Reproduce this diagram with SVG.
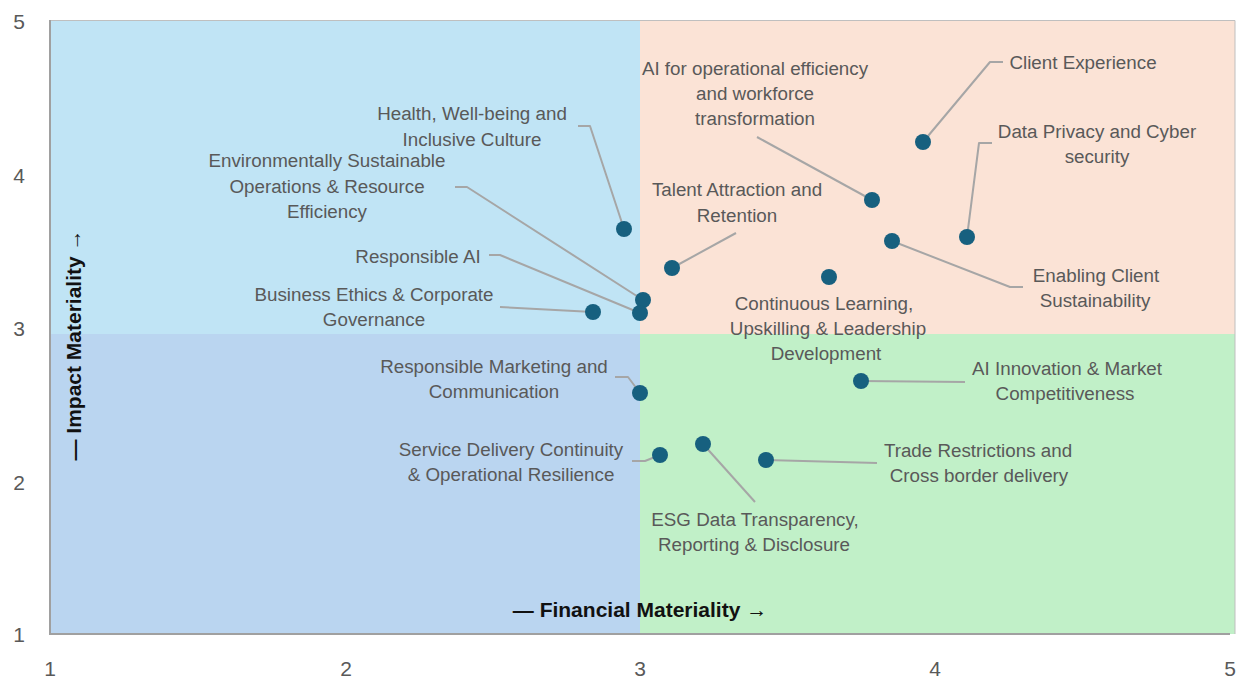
<svg xmlns="http://www.w3.org/2000/svg" width="1248" height="679" viewBox="0 0 1248 679">
<style>
.lbl{font-family:"Liberation Sans",Arial,sans-serif;font-size:18.8px;fill:#595959;text-anchor:middle}
.tick{font-family:"Liberation Sans",Arial,sans-serif;font-size:21px;fill:#595959;text-anchor:middle}
.axt{font-family:"Liberation Sans",Arial,sans-serif;font-size:21px;font-weight:bold;fill:#111;text-anchor:middle}
.ld{fill:none;stroke:#a6a6a6;stroke-width:2;stroke-linejoin:round}
.dot{fill:#17607f}
</style>
<rect width="1248" height="679" fill="#ffffff"/>
<g id="quadrants">
<rect x="50" y="20" width="590" height="314" fill="#c0e4f5"/>
<rect x="640" y="20" width="595" height="314" fill="#fbe3d6"/>
<rect x="50" y="334" width="590" height="300" fill="#bad5f0"/>
<rect x="640" y="334" width="595" height="300" fill="#c1f0c8"/>
<path d="M50 20.5H1235V634" fill="none" stroke="#bfbfbf" stroke-width="1"/>
<path d="M50 20V634H1230" fill="none" stroke="#a0a0a0" stroke-width="2"/>
</g>
<g id="ticks">
<text class="tick" x="19" y="29">5</text>
<text class="tick" x="19" y="183">4</text>
<text class="tick" x="19" y="336">3</text>
<text class="tick" x="19" y="490">2</text>
<text class="tick" x="19" y="642">1</text>
<text class="tick" x="50" y="676">1</text>
<text class="tick" x="346" y="676">2</text>
<text class="tick" x="640" y="676">3</text>
<text class="tick" x="935" y="676">4</text>
<text class="tick" x="1230" y="676">5</text>
</g>
<g id="axis-titles">
<text class="axt" x="640" y="617">— Financial Materiality →</text>
<text class="axt" transform="translate(81 345) rotate(-90)">— Impact Materiality →</text>
</g>
<g id="connectors">
<path class="ld" d="M1003 62H990L923 142"/>
<path class="ld" d="M992 143H979L967 237"/>
<path class="ld" d="M757 137L872 200"/>
<path class="ld" d="M1023 287H1010L892 241"/>
<path class="ld" d="M736 233L672 268"/>
<path class="ld" d="M578 126H590L624 229"/>
<path class="ld" d="M455 187H467L643 300"/>
<path class="ld" d="M489 255H500L640 313"/>
<path class="ld" d="M500 307L593 312"/>
<path class="ld" d="M615 377H628L640 393"/>
<path class="ld" d="M632 461H645L660 455"/>
<path class="ld" d="M755 502L703 444"/>
<path class="ld" d="M877 463L766 460"/>
<path class="ld" d="M965 382L861 381"/>
</g>
<g id="n-client-experience"><circle class="dot" cx="923" cy="142" r="8"/><text class="lbl" x="1083" y="69">Client Experience</text></g>
<g id="n-data-privacy"><circle class="dot" cx="967" cy="237" r="8"/><text class="lbl" x="1097" y="138">Data Privacy and Cyber</text><text class="lbl" x="1097" y="163">security</text></g>
<g id="n-ai-ops"><circle class="dot" cx="872" cy="200" r="8"/><text class="lbl" x="755" y="75">AI for operational efficiency</text><text class="lbl" x="755" y="100">and workforce</text><text class="lbl" x="755" y="125">transformation</text></g>
<g id="n-enabling"><circle class="dot" cx="892" cy="241" r="8"/><text class="lbl" x="1096" y="282">Enabling Client</text><text class="lbl" x="1095" y="307">Sustainability</text></g>
<g id="n-continuous"><circle class="dot" cx="829" cy="277" r="8"/><text class="lbl" x="824" y="310">Continuous Learning,</text><text class="lbl" x="828" y="335">Upskilling &amp; Leadership</text><text class="lbl" x="826" y="360">Development</text></g>
<g id="n-talent"><circle class="dot" cx="672" cy="268" r="8"/><text class="lbl" x="737" y="196">Talent Attraction and</text><text class="lbl" x="737" y="222">Retention</text></g>
<g id="n-health"><circle class="dot" cx="624" cy="229" r="8"/><text class="lbl" x="472" y="120">Health, Well-being and</text><text class="lbl" x="472" y="146">Inclusive Culture</text></g>
<g id="n-env"><circle class="dot" cx="643" cy="300" r="8"/><text class="lbl" x="327" y="167">Environmentally Sustainable</text><text class="lbl" x="327" y="193">Operations &amp; Resource</text><text class="lbl" x="327" y="218">Efficiency</text></g>
<g id="n-resp-ai"><circle class="dot" cx="640" cy="313" r="8"/><text class="lbl" x="418" y="263">Responsible AI</text></g>
<g id="n-ethics"><circle class="dot" cx="593" cy="312" r="8"/><text class="lbl" x="374" y="301">Business Ethics &amp; Corporate</text><text class="lbl" x="374" y="326">Governance</text></g>
<g id="n-marketing"><circle class="dot" cx="640" cy="393" r="8"/><text class="lbl" x="494" y="373">Responsible Marketing and</text><text class="lbl" x="494" y="398">Communication</text></g>
<g id="n-service"><circle class="dot" cx="660" cy="455" r="8"/><text class="lbl" x="511" y="456">Service Delivery Continuity</text><text class="lbl" x="511" y="481">&amp; Operational Resilience</text></g>
<g id="n-esg"><circle class="dot" cx="703" cy="444" r="8"/><text class="lbl" x="755" y="526">ESG Data Transparency,</text><text class="lbl" x="754" y="551">Reporting &amp; Disclosure</text></g>
<g id="n-trade"><circle class="dot" cx="766" cy="460" r="8"/><text class="lbl" x="978" y="457">Trade Restrictions and</text><text class="lbl" x="979" y="482">Cross border delivery</text></g>
<g id="n-ai-innovation"><circle class="dot" cx="861" cy="381" r="8"/><text class="lbl" x="1067" y="375">AI Innovation &amp; Market</text><text class="lbl" x="1065" y="400">Competitiveness</text></g>
</svg>
